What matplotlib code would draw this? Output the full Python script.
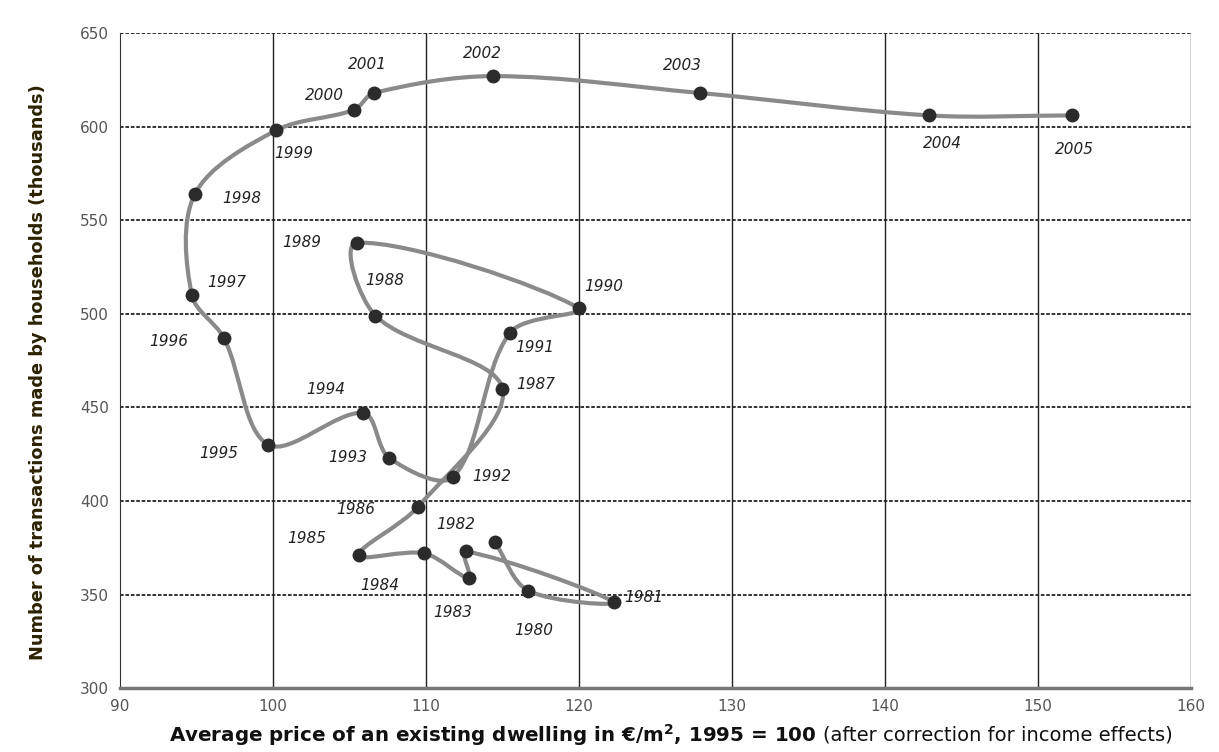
import matplotlib
matplotlib.use("Agg")
import matplotlib.pyplot as plt
from matplotlib.path import Path
from matplotlib.patches import PathPatch

# data (price index, transactions in thousands)
years = [1979, 1980, 1981, 1982, 1983, 1984, 1985, 1986, 1987, 1988, 1989,
         1990, 1991, 1992, 1993, 1994, 1995, 1996, 1997, 1998, 1999, 2000,
         2001, 2002, 2003, 2004, 2005]
price = [114.5, 116.7, 122.3, 112.6, 112.8, 109.9, 105.6, 109.5, 115.0, 106.7, 105.5,
         120.0, 115.5, 111.8, 107.6, 105.9, 99.7, 96.8, 94.7, 94.9, 100.2, 105.3,
         106.6, 114.4, 127.9, 142.9, 152.2]
transactions = [378, 352, 346, 373, 359, 372, 371, 397, 460, 499, 538,
                503, 490, 413, 423, 447, 430, 487, 510, 564, 598, 609,
                618, 627, 618, 606, 606]

# label offsets in pixels (dx, dy) -- 1979 has no label in the original
label_offsets = {
    1980: (5, -40), 1981: (30, 4), 1982: (-10, 27), 1983: (-16, -35),
    1984: (-45, -32), 1985: (-52, 17), 1986: (-63, -3), 1987: (33, 4),
    1988: (9, 35), 1989: (-55, 0), 1990: (25, 22), 1991: (25, -15),
    1992: (38, 0), 1993: (-41, 0), 1994: (-37, 23), 1995: (-50, -9),
    1996: (-55, -3), 1997: (35, 13), 1998: (47, -4), 1999: (18, -23),
    2000: (-30, 14), 2001: (-6, 28), 2002: (-11, 23), 2003: (-17, 27),
    2004: (13, -28), 2005: (3, -34),
}


def smooth_path(xs, ys, sx=15.3, sy=1.87):
    # smooth curve through the points, tangents weighted by segment length
    n = len(xs)

    def dist(i, j):
        return (((xs[j] - xs[i]) * sx) ** 2 + ((ys[j] - ys[i]) * sy) ** 2) ** 0.5

    verts = [(xs[0], ys[0])]
    codes = [Path.MOVETO]
    for i in range(n - 1):
        a = i - 1 if i > 0 else i
        d = i + 2 if i + 2 < n else i + 1
        b, c = i, i + 1
        dbc = dist(b, c)
        if a != b:
            k = dbc / (dist(a, b) + dbc) / 3
            c1 = (xs[b] + (xs[c] - xs[a]) * k, ys[b] + (ys[c] - ys[a]) * k)
        else:
            c1 = (xs[b] + (xs[c] - xs[b]) / 3, ys[b] + (ys[c] - ys[b]) / 3)
        if d != c:
            k = dbc / (dist(c, d) + dbc) / 3
            c2 = (xs[c] - (xs[d] - xs[b]) * k, ys[c] - (ys[d] - ys[b]) * k)
        else:
            c2 = (xs[c] - (xs[c] - xs[b]) / 3, ys[c] - (ys[c] - ys[b]) / 3)
        verts += [c1, c2, (xs[c], ys[c])]
        codes += [Path.CURVE4] * 3
    return Path(verts, codes)


fig = plt.figure(figsize=(12.19, 7.52), dpi=100)
ax = fig.add_axes([0.0984, 0.085, 0.8786, 0.871])

ax.set_xlim(90, 160)
ax.set_ylim(300, 650)
ax.set_xticks(range(90, 161, 10))
ax.set_yticks(range(300, 651, 50))

for x in range(100, 161, 10):
    ax.axvline(x, color='#222222', lw=1.0, zorder=1)
for y in range(350, 651, 50):
    ax.axhline(y, color='#222222', lw=1.3, ls=(0, (2, 1)), zorder=1)

for s in ['top', 'right']:
    ax.spines[s].set_visible(False)
ax.spines['left'].set_color('#333333')
ax.spines['bottom'].set_color('#777777')
ax.spines['bottom'].set_linewidth(2.5)
ax.tick_params(axis='both', length=0, labelsize=11, labelcolor='#555555', pad=8)

patch = PathPatch(smooth_path(price, transactions), facecolor='none',
                  edgecolor='#8a8a8a', lw=3, zorder=3)
ax.add_patch(patch)
ax.plot(price, transactions, 'o', color='#2b2b2b', markersize=9, zorder=4)

for yr, px, tr in zip(years, price, transactions):
    if yr not in label_offsets:
        continue
    dx, dy = label_offsets[yr]
    ax.annotate(str(yr), (px, tr), xytext=(dx, dy), textcoords='offset pixels',
                ha='center', va='center', fontsize=11, style='italic',
                color='#222222', zorder=5)

fig.text(0.031, 0.505, 'Number of transactions made by households (thousands)',
         rotation=90, ha='center', va='center', fontsize=12.8, fontweight='bold',
         color='#2a2200')

t1 = fig.text(0.139, 0.022, 'Average price of an existing dwelling in \u20ac/m$^\\mathbf{2}$, 1995 = 100',
              ha='left', va='center', fontsize=14.3, fontweight='bold', color='#111111')
fig.canvas.draw()
bb = t1.get_window_extent().transformed(fig.transFigure.inverted())
fig.text(bb.x1 + 0.005, 0.022, '(after correction for income effects)',
         ha='left', va='center', fontsize=14, color='#111111')

fig.savefig('out.png', dpi=100, facecolor='white')
